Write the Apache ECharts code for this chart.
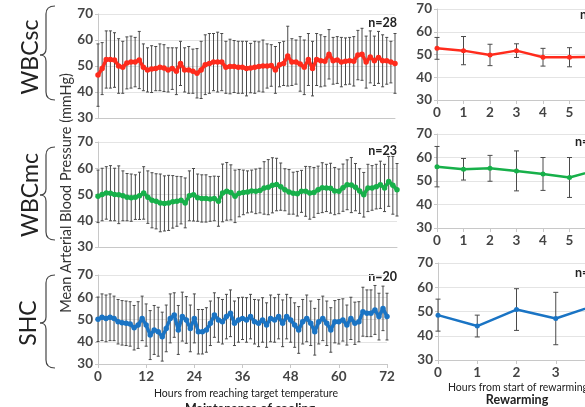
<!DOCTYPE html>
<html><head><meta charset="utf-8">
<script src="https://cdn.jsdelivr.net/npm/echarts@6/dist/echarts.min.js"></script>
<style>html,body{margin:0;padding:0;background:#fff}#c{width:585px;height:407px}</style>
</head><body><div id="c"></div>
<script>
var hoursCool = [];
for (var h = 0; h <= 72; h++) hoursCool.push(h);
var hoursRw12 = [0,1,2,3,4,5,6];
var hoursRw3 = [0,1,2,3,4];
var yTicks = [30,40,50,60,70];
var groupNames = ['WBCsc','WBCmc','SHC'];
var nLabels = ['n=28','n=23','n=20'];

var wbcscMean = [46.5,49,52.5,52.5,52.3,50,49.5,51.2,51.5,51.5,
 52.3,49.5,48.5,48.8,49,49.5,49.2,48.5,49,48,
 51,48.5,48.5,48,47.2,48.5,50.5,51,51.5,51.5,
 51.5,49.5,49.8,49.8,49.5,49.5,49,49.2,49.5,49.8,
 50,50,50.2,48.5,50.5,51,53.8,51.5,51.5,50.8,
 49.5,52.5,49,52.5,52,51.8,54.5,52,52.3,51.5,
 51.8,52,51.8,54.2,54.5,51.5,53.5,52,53.3,52,
 52,51.5,51];
var wbcscSd = [12,10,11,11,10.5,10.5,10,10,10,9.5,
 11,9,8.5,9,8.5,9,9,8.5,8,9,
 8.5,8.5,9,8.5,9.5,11,11.5,11.5,11,11.5,
 11,10,10.5,10,10,10,10.5,9.5,10,9.5,
 10,8.5,8,9,8.5,8.5,11.5,9,8.5,10.5,
 10.5,10,10.5,10,10,9.5,9.5,9,9,9.5,
 9,9,9.5,9.5,10,10,10,9.5,10,10,
 9,8,11.5];
var wbcmcMean = [49.3,50,50.6,50.5,50,49.9,49.5,49,48.8,49,
 49.5,50.6,49,47.8,47.4,46.8,46.6,46.8,47.2,47.4,
 47.8,46.8,49.5,49.9,48.8,48.5,48.5,48.3,48.5,47.4,
 50.6,51.2,50.8,49.3,50.5,50.8,51,51.3,51.2,51.5,
 52.5,52.8,53.5,53.8,53,51.8,51,50.5,50.3,51.2,
 51.2,50.6,50.8,51.8,52.6,52.5,52.4,51.3,51.2,52.6,
 53.7,53.6,52.8,51.3,49.9,52.5,52.5,53,53.7,52.5,
 55,53.5,51.8];
var wbcmcSd = [10,10,10,10.5,10,11,9.5,9,9,8.5,
 9,10,10,10.5,10.5,11,10.5,10.5,10,9.5,
 9,9.5,9.5,10,9,9,9,8.5,8.5,9.5,
 11,11,10.5,10,9,8.5,8,8,8.5,8.5,
 10,10.5,10.5,10,9,8,8.5,8,8.5,8,
 9.5,10,9.5,9,9.5,9,9.5,9,8.5,9,
 9.5,10.5,9,8.5,8.5,9,8.5,8.5,9,9,
 9.5,11,10];
var shcMean = [50.1,51,50.5,51,50.5,49,48.5,48.3,48,46.3,
 47.5,50.5,47.5,43,45.3,44.5,42.3,46,50.5,52,
 45.3,51.3,49.8,46,50.5,44.5,44.5,45.3,48.3,52,
 49.8,49,51.3,52.8,48.3,49.8,50.5,49.8,51.3,49,
 48.3,49.8,47.5,50.5,49.8,51.3,48.3,51.3,49.8,47.5,
 45.3,49,50.5,48.3,44.5,49,50.5,48.3,45.3,49,
 49,49.8,47.5,50.5,48.3,49,53.5,52.8,52.8,54.3,
 51.3,55,51.3];
var shcSd = [10,10.5,10.5,10.5,10,10,10,10,10,10,
 10.5,10,9.5,11,11,11,11,10.5,11,10,
 11,11,10.5,10.5,11,10,10,10,10,10,
 10,10,10,10.5,10,10,9.5,10,10,10,
 10.5,10,10,10.5,10,10,10.5,10,10,10,
 10.5,10,10.5,10,10.5,10,10,10,10,9.5,
 10,9.5,9,9.5,9.5,9,11,10.5,10.5,11,
 10.5,10,10.5];

var rwWbcscMean = [52.7,51.7,49.8,51.7,48.8,48.8,49];
var rwWbcscSd = [4.8,6.2,4.7,3,3.9,4.2,4];
var rwWbcmcMean = [56.1,55,55.4,54.3,53,51.5,54.6];
var rwWbcmcSd = [8.6,4.6,5.5,8.5,7,8.5,7];
var rwShcMean = [48.5,44,50.8,47.1,52.5];
var rwShcSd = [6.6,4.5,8.6,10.8,8];

var colors = ['#ff2b1c','#17b04a','#1a74c4'];
var FONT = 'Lato';

var grids = [
 {left:98, top:14, width:297, height:104},
 {left:98, top:142, width:299, height:105},
 {left:98, top:275, width:289, height:89},
 {left:437, top:9, width:159, height:91},
 {left:437, top:134, width:159, height:94},
 {left:438, top:263, width:157, height:97}
].map(function(g){ g.outerBoundsMode = 'none'; g.containLabel = false; return g; });

function yAx(i){
  return {gridIndex:i, type:'value', min:yTicks[0], max:yTicks[yTicks.length-1], interval:10,
    axisLine:{show:true, lineStyle:{color:'#c8c8c8'}},
    axisTick:{show:true, length:3, lineStyle:{color:'#c8c8c8'}},
    axisLabel:{fontSize:13.5, fontWeight:'bold', color:'#444', fontFamily:FONT, margin:5},
    splitLine:{show:true, lineStyle:{color:'#e4e4e4'}}};
}
function xAx(i, max, interval, showLabels){
  return {gridIndex:i, type:'value', min:0, max:max, interval:interval,
    axisLine:{show:true, onZero:false, lineStyle:{color:'#c8c8c8'}},
    axisTick:{show:showLabels, length:4, lineStyle:{color:'#c8c8c8'}},
    axisLabel:{show:showLabels, fontSize:13.5, fontWeight:'bold', color:'#444', fontFamily:FONT, margin:6,
      showMaxLabel:true},
    splitLine:{show:false}};
}

function errRender(capW){
  return function(params, api){
    var x = api.value(0), lo = api.value(1), hi = api.value(2);
    var p1 = api.coord([x, lo]), p2 = api.coord([x, hi]);
    var st = {stroke:'#4a4a4a', lineWidth:1};
    return {type:'group', children:[
      {type:'line', shape:{x1:p1[0], y1:p1[1], x2:p2[0], y2:p2[1]}, style:st},
      {type:'line', shape:{x1:p1[0]-capW, y1:p1[1], x2:p1[0]+capW, y2:p1[1]}, style:st},
      {type:'line', shape:{x1:p2[0]-capW, y1:p2[1], x2:p2[0]+capW, y2:p2[1]}, style:st}
    ]};
  };
}

var panels = [
 {hours:hoursCool, mean:wbcscMean, sd:wbcscSd, c:0, cap:1.5, lw:3.5, sym:5.5},
 {hours:hoursCool, mean:wbcmcMean, sd:wbcmcSd, c:1, cap:1.5, lw:3.5, sym:5.5},
 {hours:hoursCool, mean:shcMean, sd:shcSd, c:2, cap:1.5, lw:3.5, sym:5.5},
 {hours:hoursRw12, mean:rwWbcscMean, sd:rwWbcscSd, c:0, cap:2.5, lw:2.5, sym:5},
 {hours:hoursRw12, mean:rwWbcmcMean, sd:rwWbcmcSd, c:1, cap:2.5, lw:2.5, sym:5},
 {hours:hoursRw3, mean:rwShcMean, sd:rwShcSd, c:2, cap:2.5, lw:2.5, sym:5}
];

var series = [];
panels.forEach(function(p, i){
  series.push({type:'custom', xAxisIndex:i, yAxisIndex:i, renderItem:errRender(p.cap),
    encode:{x:0, y:[1,2]}, z:2, silent:true, clip:false,
    data:p.hours.map(function(h, k){ return [h, p.mean[k]-p.sd[k], p.mean[k]+p.sd[k]]; })});
  series.push({type:'line', xAxisIndex:i, yAxisIndex:i, z:5, silent:true, animation:false,
    symbol:'circle', symbolSize:p.sym, showSymbol:true,
    itemStyle:{color:colors[p.c]}, lineStyle:{color:colors[p.c], width:p.lw},
    data:p.hours.map(function(h, k){ return [h, p.mean[k]]; })});
});

var BST = {fill:'none', stroke:'#444', lineWidth:1.2};
function brace(top, mid, bot){
  return [
    {type:'bezierCurve', shape:{x1:55, y1:top, cpx1:46, cpy1:top, x2:46, y2:top+8}, style:BST},
    {type:'line', shape:{x1:46, y1:top+8, x2:46, y2:mid-6}, style:BST},
    {type:'bezierCurve', shape:{x1:46, y1:mid-6, cpx1:46, cpy1:mid, x2:40, y2:mid}, style:BST},
    {type:'bezierCurve', shape:{x1:40, y1:mid, cpx1:46, cpy1:mid, x2:46, y2:mid+6}, style:BST},
    {type:'line', shape:{x1:46, y1:mid+6, x2:46, y2:bot-8}, style:BST},
    {type:'bezierCurve', shape:{x1:46, y1:bot-8, cpx1:46, cpy1:bot, x2:55, y2:bot}, style:BST}
  ];
}
function rtext(x, y, txt, size, weight, color){
  return {type:'text', x:x, y:y, rotation:Math.PI/2,
    style:{text:txt, fontSize:size, fontWeight:weight||'normal', fontFamily:FONT, fill:color||'#222',
      align:'center', verticalAlign:'middle'}};
}
function htext(x, y, txt, size, weight, align){
  return {type:'text', x:x, y:y,
    style:{text:txt, fontSize:size, fontWeight:weight||'normal', fontFamily:FONT, fill:'#222',
      align:align||'center', verticalAlign:'middle'}};
}

var graphics = [].concat(brace(6, 55, 100), brace(147, 195, 240), brace(275, 323, 368), [
  rtext(31, 57, groupNames[0], 23), rtext(31, 195, groupNames[1], 23), rtext(29, 323, groupNames[2], 23),
  rtext(66, 193, 'Mean Arterial Blood Pressure (mmHg)', 14.5, 'normal', '#333'),
  htext(397, 23, nLabels[0], 12.5, 'bold', 'right'),
  htext(397, 151, nLabels[1], 12.5, 'bold', 'right'),
  htext(397, 277, nLabels[2], 12.5, 'bold', 'right'),
  htext(580, 15, nLabels[0], 12.5, 'bold', 'left'),
  htext(575, 142, nLabels[1], 12.5, 'bold', 'left'),
  htext(575, 273, nLabels[2], 12.5, 'bold', 'left'),
  htext(246, 394, 'Hours from reaching target temperature', 10.5),
  htext(250, 409, 'Maintenance of cooling', 12.5, 'bold'),
  htext(518, 388, 'Hours from start of rewarming', 10.5),
  htext(517, 400, 'Rewarming', 12.5, 'bold')
]);

var chart = echarts.init(document.getElementById('c'), null, {renderer:'canvas'});
chart.setOption({
  animation:false,
  backgroundColor:'#fff',
  grid:grids,
  xAxis:[xAx(0,72,12,false), xAx(1,72,12,false), xAx(2,72,12,true),
         xAx(3,6,1,true), xAx(4,6,1,true), xAx(5,4,1,true)],
  yAxis:[yAx(0),yAx(1),yAx(2),yAx(3),yAx(4),yAx(5)],
  series:series,
  graphic:graphics
});
</script>
</body></html>
